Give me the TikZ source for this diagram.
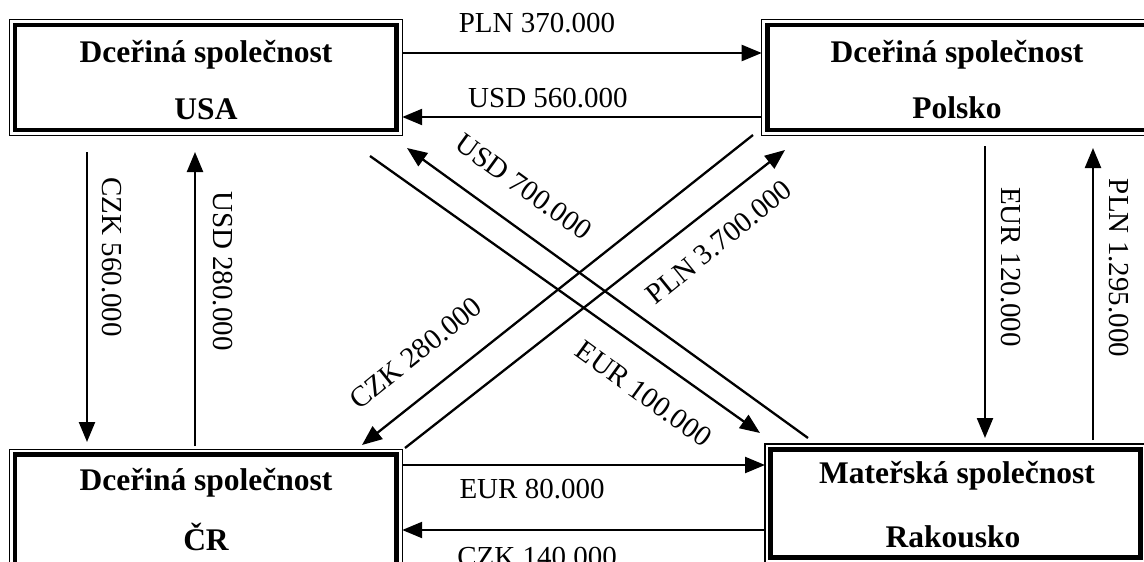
\documentclass[tikz,border=0pt]{standalone}
\usepackage{fontspec}
\setmainfont{Liberation Serif}
\usetikzlibrary{arrows.meta}

% thick inner frame drawn inside the thin outline of a company box
\newcommand\frameit[1]{%
  \draw[line width=4.8pt] ([shift={(5.5pt,-5.5pt)}]#1.north west)
    rectangle ([shift={(-5.5pt,5.5pt)}]#1.south east);}

\begin{document}
\begin{tikzpicture}[x=1pt,y=-1pt,
  firm/.style={draw,line width=1.1pt,inner sep=0pt,outer sep=0pt},
  title/.style={anchor=base,inner sep=0pt,font=\fontsize{31.5}{36}\selectfont\bfseries},
  amount/.style={inner sep=0pt,font=\fontsize{29}{34}\selectfont},
  flow/.style={line width=2.3pt,-{Triangle[length=20pt,width=16pt]}}]

\useasboundingbox (0,0) rectangle (1144,562);
\fill[white] (0,0) rectangle (1144,562);
\clip (0,0) rectangle (1144,562);

% company boxes
\node[firm,minimum width=392.7pt,minimum height=116pt] (usa) at (205.85,77.5) {};
\node[firm,minimum width=392.7pt,minimum height=116pt] (pol) at (958.05,77.5) {};
\node[firm,minimum width=392.7pt,minimum height=122pt] (cr)  at (205.85,510.3) {};
\node[firm,minimum width=381pt,minimum height=119pt]   (rak) at (955.5,503.5) {};
\frameit{usa}\frameit{pol}\frameit{cr}\frameit{rak}

\node[title] (usa1) at (206,62)  {Dceřiná společnost};
\node[title] (usa2) at (206,119) {USA};
\node[title] (pol1) at (957,62)  {Dceřiná společnost};
\node[title] (pol2) at (957,118) {Polsko};
\node[title] (cr1)  at (206,490) {Dceřiná společnost};
\node[title] (cr2)  at (206,550) {ČR};
\node[title] (rak1) at (957,483) {Mateřská společnost};
\node[title] (rak2) at (953,547) {Rakousko};

% horizontal flows
\draw[flow] ([yshift=24.5pt]usa.east) -- ([yshift=24.5pt]pol.west);
\draw[flow] ([yshift=-39.5pt]pol.west) -- ([yshift=-39.5pt]usa.east);
\draw[flow] ([yshift=45.3pt]cr.east) -- ([yshift=38.5pt]rak.west);
\draw[flow] ([yshift=-26.5pt]rak.west) -- ([yshift=-19.7pt]cr.east);

% vertical flows
\draw[flow] ([shift={(-118.85pt,-16.5pt)}]usa.south) -- ([shift={(-118.85pt,7.3pt)}]cr.north);
\draw[flow] ([shift={(-10.85pt,3.3pt)}]cr.north) -- ([shift={(-10.85pt,-16.5pt)}]usa.south);
\draw[flow] ([shift={(26.95pt,-10.5pt)}]pol.south) -- ([shift={(29.5pt,6pt)}]rak.north);
\draw[flow] ([shift={(137.5pt,4pt)}]rak.north) -- ([shift={(134.95pt,-12.5pt)}]pol.south);

% diagonal flows
\draw[flow] ([shift={(-32.2pt,-20.5pt)}]usa.south east) -- ([shift={(-5pt,11pt)}]rak.north west);
\draw[flow] ([shift={(43pt,6pt)}]rak.north west) -- ([shift={(4.8pt,-12.5pt)}]usa.south east);
\draw[flow] ([shift={(-8.7pt,0.5pt)}]pol.south west) -- ([shift={(-40.2pt,4.3pt)}]cr.north east);
\draw[flow] ([shift={(2.8pt,1.3pt)}]cr.north east) -- ([shift={(23.3pt,-14.5pt)}]pol.south west);

% amounts
\node[amount,anchor=base] (a1) at (537,32)  {PLN 370.000};
\node[amount,anchor=base] (a2) at (548,107) {USD 560.000};
\node[amount,anchor=base] (a3) at (532,498) {EUR 80.000};
\node[amount,anchor=base] (a4) at (537,566) {CZK 140.000};
\node[amount,rotate=-90] (a5) at (112,257)  {CZK 560.000};
\node[amount,rotate=-90] (a6) at (223,271)  {USD 280.000};
\node[amount,rotate=-90] (a7) at (1011,267) {EUR 120.000};
\node[amount,rotate=-90] (a8) at (1119,268) {PLN 1.295.000};
\node[amount,rotate=-36] (a9)  at (524,187) {USD 700.000};
\node[amount,rotate=-36] (a10) at (644,394) {EUR 100.000};
\node[amount,rotate=39]  (a11) at (719,242) {PLN 3.700.000};
\node[amount,rotate=39]  (a12) at (416,353) {CZK 280.000};
\end{tikzpicture}
\end{document}
